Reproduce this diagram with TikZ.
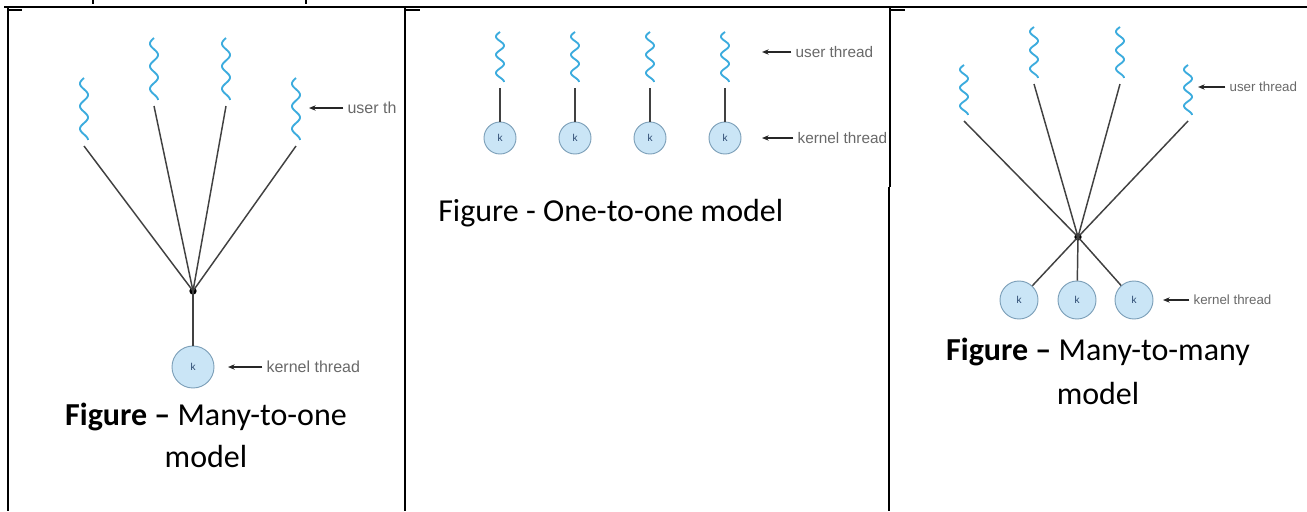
\documentclass[tikz,border=0pt]{standalone}
\usepackage{fontspec}
\setmainfont{Carlito}
\newfontfamily\lblfont{Liberation Sans}
\usetikzlibrary{arrows.meta}
\definecolor{squigc}{RGB}{60,172,222}
\definecolor{kfill}{RGB}{202,229,246}
\definecolor{kdraw}{RGB}{125,160,185}
\definecolor{ktext}{RGB}{40,70,110}
\definecolor{lblc}{RGB}{105,105,105}
\definecolor{linec}{RGB}{65,65,65}
\newcommand\mysquig[5]{%
  \draw[squig] plot[domain=0:1,samples=90,smooth] ({#1+#4*sin(-2.75*360*\x)},{#2+#3*\x});
  \coordinate (#5) at (#1,#2+#3+6);}
\begin{document}
\begin{tikzpicture}[x=0.75pt,y=-0.75pt,
  squig/.style={draw=squigc,line width=1.4pt},
  conn/.style={draw=linec,line width=1.1pt},
  kcirc/.style={circle,draw=kdraw,fill=kfill,line width=0.7pt,inner sep=0pt,text=ktext,font=\lblfont\fontsize{7.5}{8}\selectfont},
  hub/.style={circle,fill=black,inner sep=0pt,minimum size=5.5pt},
  lbl/.style={anchor=west,text=lblc,inner sep=1pt,font=\lblfont\fontsize{#1}{#1}\selectfont},
  lblarr/.style={draw=black!85,line width=0.9pt,shorten <=2pt,-{Stealth[length=5pt,width=4pt]}},
  captxt/.style={anchor=base,inner sep=0pt,font=\fontsize{24}{29}\selectfont},
  rulethick/.style={draw=black,line width=1.5pt},
  rulethin/.style={draw=black,line width=0.8pt},
]
\useasboundingbox (0,0) rectangle (1307,511);
\fill[white] (0,0) rectangle (1307,511);

% table rules
\draw[rulethin,line width=1.1pt] (4,7) -- (1307,7);
\draw[rulethick] (8,7) -- (8,511);
\draw[rulethick] (405,7) -- (405,511);
\draw[rulethin] (890,7) -- (890,187);
\draw[rulethick] (889,187) -- (889,511);
\draw[rulethin,line width=1pt] (8,10) -- (22,10);
\draw[rulethin,line width=1pt] (405,10) -- (420,10);
\draw[rulethin,line width=1pt] (890,10) -- (905,10);
\draw[rulethick] (93,0) -- (93,4);
\draw[rulethick] (306,0) -- (306,4);

% ---------- panel 1: many-to-one ----------
\mysquig{84}{78}{62}{4}{s11}
\mysquig{154}{38}{62}{4}{s12}
\mysquig{226}{38}{62}{4}{s13}
\mysquig{296}{78}{62}{4}{s14}
\node[hub] (h1) at (193,291) {};
\node[kcirc,minimum size=31.5pt] (k1) at (193,367) {k};
\draw[conn] (s11) -- (h1.center);
\draw[conn] (s12) -- (h1.center);
\draw[conn] (s13) -- (h1.center);
\draw[conn] (s14) -- (h1.center);
\draw[conn] (h1.center) -- (k1);
\node[lbl=12] (u1) at (346,108) {user th};
\coordinate (u1a) at (309,108);
\draw[lblarr] (u1.west) -- (u1a);
\node[lbl=12] (kl1) at (265,367) {kernel thread};
\coordinate (kl1a) at (228,367);
\draw[lblarr] (kl1.west) -- (kl1a);
\node[captxt] (c1a) at (206,425) {\textbf{Figure –} Many-to-one};
\node[captxt] (c1b) at (206,467) {model};

% ---------- panel 2: one-to-one ----------
\foreach \i/\xx in {1/500,2/575,3/650,4/725}{
  \mysquig{\xx}{32}{50}{4}{s2\i}
  \node[kcirc,minimum size=24pt] (k2\i) at (\xx,138) {k};
  \draw[conn] (s2\i) -- (k2\i);
}
\node[lbl=11.5] (u2) at (794,52) {user thread};
\coordinate (u2a) at (762,52);
\draw[lblarr] (u2.west) -- (u2a);
\node[lbl=11.5] (kl2) at (796,138) {kernel thread};
\coordinate (kl2a) at (762,138);
\draw[lblarr] (kl2.west) -- (kl2a);
\node[captxt,anchor=base west] (c2) at (438,221) {Figure - One-to-one model};

% ---------- panel 3: many-to-many ----------
\mysquig{964}{65}{50}{4}{s31}
\mysquig{1034}{27}{51}{4}{s32}
\mysquig{1120}{27}{51}{4}{s33}
\mysquig{1188}{65}{50}{4}{s34}
\node[hub] (h3) at (1078,237) {};
\node[kcirc,minimum size=28.5pt] (k31) at (1019,300) {k};
\node[kcirc,minimum size=28.5pt] (k32) at (1077,300) {k};
\node[kcirc,minimum size=28.5pt] (k33) at (1134,300) {k};
\draw[conn] (s31) -- (h3.center);
\draw[conn] (s32) -- (h3.center);
\draw[conn] (s33) -- (h3.center);
\draw[conn] (s34) -- (h3.center);
\draw[conn] (h3.center) -- (k31);
\draw[conn] (h3.center) -- (k32);
\draw[conn] (h3.center) -- (k33);
\node[lbl=10] (u3) at (1228,87) {user thread};
\coordinate (u3a) at (1198,87);
\draw[lblarr] (u3.west) -- (u3a);
\node[lbl=10] (kl3) at (1192,300) {kernel thread};
\coordinate (kl3a) at (1163,300);
\draw[lblarr] (kl3.west) -- (kl3a);
\node[captxt] (c3a) at (1098,360) {\textbf{Figure –} Many-to-many};
\node[captxt] (c3b) at (1098,404) {model};
\end{tikzpicture}
\end{document}
